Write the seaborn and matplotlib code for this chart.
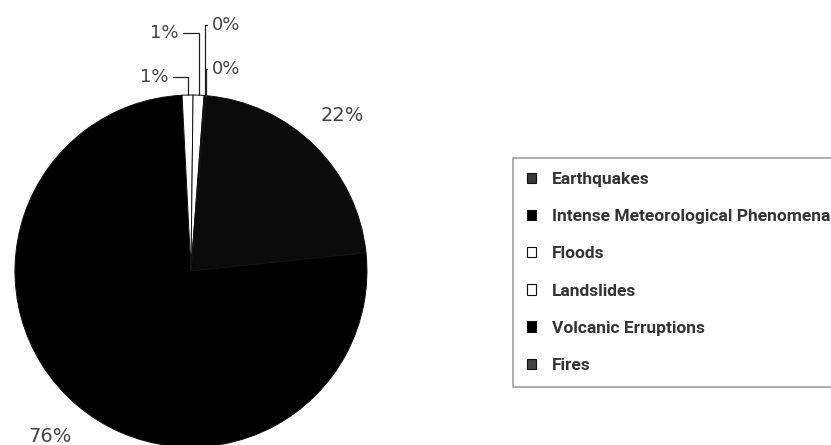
import matplotlib
matplotlib.use("Agg")
import numpy as np
import matplotlib.pyplot as plt
from matplotlib.patches import Patch
import seaborn as sns

# data
causes = ["Earthquakes", "Intense Meteorological Phenomena", "Floods",
          "Landslides", "Volcanic Erruptions", "Fires"]
shares = [22, 76, 1, 1, 0.1, 0.1]
colours = ["#0b0b0b", "#000000", "#ffffff", "#ffffff", "#000000", "#333333"]
key_colours = ["#3a3a3a", "#000000", "#ffffff", "#ffffff", "#000000", "#444444"]

sns.set_theme(style="white")
plt.rcParams['font.family'] = ['DejaVu Sans']

fig = plt.figure(figsize=(8.31, 4.45), dpi=100)
ax = fig.add_axes([0.018, -0.0045, 0.4236, 0.791])

wedges, _ = ax.pie(shares, colors=colours, startangle=85, counterclock=False,
                   wedgeprops=dict(edgecolor="#111111", linewidth=0.7))
ax.set_xlim(-1, 1)
ax.set_ylim(-1, 1)
ax.set_aspect("equal")
ax.axis("off")

total = sum(shares)
pcts = [f"{round(v / total * 100)}%" for v in shares]

# big slices: label just outside the rim
for w, p, v in zip(wedges, pcts, shares):
    if v < 5:
        continue
    mid = np.deg2rad((w.theta1 + w.theta2) / 2)
    ax.text(1.23 * np.cos(mid), 1.24 * np.sin(mid), p, ha="center",
            va="center", fontsize=14, color="#444444")

# tiny slices: labels with elbow leaders
spots = {2: (-0.13, 1.10, "right"), 3: (-0.07, 1.35, "right"),
         4: (0.12, 1.40, "left"), 5: (0.12, 1.15, "left")}
for i, (tx, ty, ha) in spots.items():
    w = wedges[i]
    mid = np.deg2rad((w.theta1 + w.theta2) / 2)
    ax.annotate(pcts[i], xy=(np.cos(mid), np.sin(mid)), xytext=(tx, ty),
                ha=ha, va="center", fontsize=13, color="#444444",
                annotation_clip=False,
                arrowprops=dict(arrowstyle="-", color="#222222", lw=0.9,
                                shrinkA=1, shrinkB=0,
                                connectionstyle="angle,angleA=0,angleB=90,rad=0"))

handles = [Patch(facecolor=c, edgecolor="#111111", linewidth=0.8) for c in key_colours]
leg = fig.legend(handles, causes, loc="upper left",
                 bbox_to_anchor=(513 / 831, 1 - 158 / 445), borderaxespad=0,
                 fancybox=False, frameon=True, edgecolor="#888888",
                 handlelength=0.55, handleheight=0.55, handletextpad=0.9,
                 labelspacing=1.28, borderpad=0.8,
                 prop=dict(family=['Roboto', 'DejaVu Sans'],
                           size=12.5, weight="bold"))
leg.get_frame().set_linewidth(1.2)
for t in leg.get_texts():
    t.set_color("#333333")

fig.savefig("out.png", dpi=100)
